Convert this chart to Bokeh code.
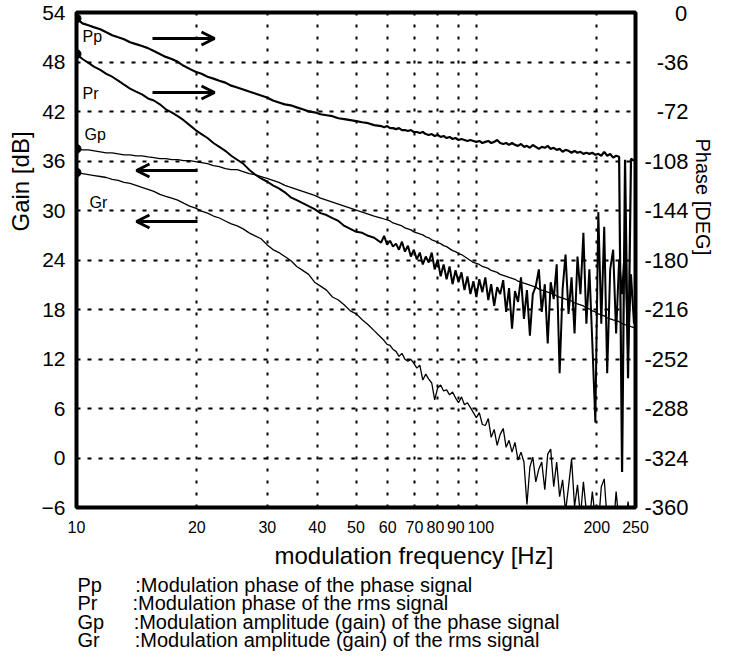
import math
from bokeh.plotting import figure
from bokeh.models import Range1d, FixedTicker, Label, Arrow, OpenHead, LinearAxis, Title
from bokeh.embed import file_html
from bokeh.resources import INLINE

# ---------------- data ----------------
x_ticks = [10, 20, 30, 40, 50, 60, 70, 80, 90, 100, 200, 250]
x_tick_labels = ["10", "20", "30", "40", "50", "60", "70", "80\u00a0", "90\u00a0", "\u00a0\u00a0100", "200", "250"]
x_grid = [20, 30, 40, 50, 60, 70, 80, 90, 100, 200]
gain_ticks = [54, 48, 42, 36, 30, 24, 18, 12, 6, 0, -6]
phase_ticks = [0, -36, -72, -108, -144, -180, -216, -252, -288, -324, -360]
phase_tick_labels = ["\u00a0" * 5 + "0", "\u00a0\u00a0-36", "\u00a0\u00a0-72", "-108", "-144", "-180",
                     "-216", "-252", "-288", "-324", "-360"]

freq = [10.00, 10.35, 10.71, 11.08, 11.47, 11.87, 12.28, 12.71, 13.15, 13.61,
        14.09, 14.58, 15.09, 15.61, 16.16, 16.72, 17.30, 17.91, 18.53, 19.18,
        19.85, 20.54, 21.26, 22.00, 22.76, 23.56, 24.38, 25.23, 26.11, 27.02,
        27.96, 28.94, 29.94, 30.99, 32.07, 33.19, 34.34, 35.54, 36.78, 38.06,
        39.39, 40.76, 42.19, 43.66, 45.18, 46.76, 48.39, 50.07, 51.82, 53.63,
        55.50,
        57.78, 58.78, 59.80, 60.83, 61.88, 62.95, 64.04, 65.15, 66.27, 67.42,
        68.58, 69.77, 70.98, 72.20, 73.45, 74.72, 76.01, 77.33, 78.66, 80.02,
        81.41, 82.81, 84.25, 85.70, 87.18, 88.69, 90.22, 91.78, 93.37, 94.98,
        96.63, 98.30, 100.0, 101.7, 103.5, 105.3, 107.1, 108.9, 110.8, 112.7,
        114.7, 116.7, 118.7, 120.7, 122.8, 124.9, 127.1, 129.3, 131.5, 133.8,
        136.1, 138.4, 140.8, 143.3, 145.7, 148.3, 150.8, 153.4, 156.1, 158.8,
        161.5, 164.3, 167.1, 170.0, 173.0, 176.0, 179.0, 182.1, 185.2, 188.4,
        191.7, 195.0, 198.4, 201.8, 205.3, 208.8, 212.4, 216.1, 219.8, 223.6,
        227.5, 231.4, 235.4, 239.5, 243.6, 247.8]

# Pp: modulation phase of the phase signal [deg]
pp_phase = [-4.3, -7.9, -9.3, -10.8, -12.2, -14.4, -16.5, -18.0, -19.4, -21.6,
            -23.0, -24.4, -25.9, -28.0, -30.2, -32.3, -33.8, -35.9, -38.8, -41.0,
            -43.1, -44.6, -46.7, -48.1, -49.6, -51.0, -53.2, -54.6, -56.0, -57.5,
            -58.9, -60.4, -61.8, -64.0, -65.4, -66.8, -67.5, -69.0, -70.4, -71.9,
            -72.6, -74.0, -74.7, -75.4, -76.9, -77.6, -78.3, -79.0, -79.8, -80.5,
            -81.9,
            -82.6, -83.4, -82.6, -84.1, -84.1, -84.8, -84.1, -85.5, -85.5, -86.2,
            -85.5, -86.9, -86.9, -87.7, -86.9, -88.4, -89.1, -88.4, -89.8, -89.1,
            -90.5, -89.8, -91.3, -90.5, -92.0, -91.3, -92.7, -92.0, -92.7, -93.4,
            -92.7, -93.4, -94.1, -93.4, -94.9, -94.1, -93.4, -94.9, -94.1, -92.7,
            -94.9, -95.6, -94.9, -96.3, -94.9, -96.3, -97.0, -95.6, -97.7, -97.0,
            -98.4, -96.3, -97.7, -99.2, -97.7, -98.4, -97.0, -99.2, -98.4, -99.9,
            -99.2, -101.3, -99.9, -100.6, -102.0, -100.6, -102.0, -101.3, -102.8, -102.0,
            -102.8, -102.0, -103.5, -102.8, -104.2, -101.3, -104.2, -102.8, -105.6, -104.2,
            -104.9, -334.1, -107.1, -265.9, -106.3, -107.8]

# Pr: modulation phase of the rms signal [deg]
pr_phase = [-30.2, -33.8, -36.6, -39.5, -41.7, -44.6, -46.7, -49.6, -52.5, -55.3,
            -57.5, -59.6, -62.5, -64.0, -66.8, -70.4, -72.6, -75.4, -78.3, -81.9,
            -85.5, -88.4, -91.3, -94.9, -97.7, -100.6, -104.2, -107.1, -109.9, -114.3,
            -117.8, -120.7, -122.9, -125.7, -127.9, -130.8, -134.4, -136.5, -138.7, -140.8,
            -143.0, -145.9, -147.3, -149.5, -151.6, -155.2, -157.4, -159.5, -160.2, -162.4,
            -163.8,
            -167.4, -162.4, -168.9, -166.0, -170.3, -168.1, -172.5, -166.7, -173.9, -169.6,
            -177.5, -172.5, -179.6, -174.6, -183.2, -177.5, -181.8, -174.6, -186.8, -179.6,
            -191.9, -183.2, -194.0, -184.7, -197.6, -187.5, -196.2, -189.0, -201.9, -191.9,
            -204.8, -195.4, -206.9, -194.0, -203.4, -192.6, -209.1, -197.6, -213.4, -199.8,
            -204.8, -194.7, -217.7, -200.5, -229.9, -202.6, -210.5, -192.6, -222.8, -201.9,
            -235.0, -204.8, -199.0, -186.8, -217.7, -197.6, -240.7, -196.2, -208.4, -183.2,
            -262.3, -201.2, -176.0, -219.2, -192.6, -233.5, -177.5, -204.8, -160.2, -226.3,
            -186.8, -240.7, -298.2, -145.2, -226.3, -155.9, -262.3, -186.8, -172.5, -233.5,
            -179.6, -204.8, -168.9, -247.9, -190.4, -226.3]

# Gp: modulation amplitude (gain) of the phase signal [dB]
gp_gain = [37.47, 37.35, 37.35, 37.23, 37.11, 36.99, 36.99, 36.87, 36.75, 36.75,
           36.63, 36.63, 36.51, 36.40, 36.28, 36.28, 36.16, 36.16, 36.04, 36.04,
           35.92, 35.80, 35.68, 35.44, 35.32, 35.08, 34.96, 34.96, 34.72, 34.48,
           34.36, 34.12, 33.88, 33.64, 33.40, 33.04, 32.80, 32.56, 32.32, 32.08,
           31.84, 31.49, 31.25, 31.01, 30.77, 30.53, 30.29, 30.05, 29.81, 29.57,
           29.33,
           29.09, 28.97, 28.85, 28.73, 28.49, 28.37, 28.25, 28.13, 27.89, 27.77,
           27.65, 27.41, 27.29, 27.17, 27.05, 26.81, 26.69, 26.45, 26.33, 26.10,
           25.98, 25.74, 25.62, 25.38, 25.14, 25.02, 24.78, 24.66, 24.42, 24.18,
           23.94, 23.70, 23.58, 23.46, 23.22, 23.10, 22.98, 22.74, 22.62, 22.50,
           22.26, 22.14, 22.02, 21.90, 21.78, 21.66, 21.43, 21.31, 21.19, 21.07,
           20.95, 20.83, 20.71, 20.47, 20.35, 20.23, 20.11, 19.99, 19.87, 19.63,
           19.51, 19.39, 19.27, 19.15, 19.03, 18.79, 18.67, 18.55, 18.43, 18.19,
           18.07, 17.83, 17.71, 17.47, 17.35, 17.23, 16.99, 16.87, 16.75, 16.64,
           16.52, 16.28, 16.16, 16.04, 15.92, 15.80]

# Gr: modulation amplitude (gain) of the rms signal [dB]
gr_gain = [34.60, 34.48, 34.36, 34.24, 34.12, 34.00, 33.76, 33.64, 33.40, 33.28,
           33.04, 32.80, 32.56, 32.32, 31.96, 31.72, 31.49, 31.25, 30.89, 30.53,
           30.29, 29.93, 29.69, 29.33, 29.09, 28.73, 28.37, 28.13, 27.77, 27.29,
           26.93, 26.58, 25.86, 25.26, 24.90, 24.42, 23.94, 23.22, 22.74, 22.26,
           21.31, 20.83, 20.35, 19.51, 19.15, 18.55, 17.83, 17.47, 16.75, 16.16,
           15.44,
           14.60, 14.24, 13.76, 13.64, 13.16, 12.92, 12.32, 12.68, 11.96, 11.72,
           11.96, 11.48, 10.89, 11.25, 9.45, 10.17, 9.57, 9.09, 7.05, 8.49,
           8.85, 8.13, 8.25, 7.65, 8.01, 7.29, 6.70, 7.41, 6.46, 6.70,
           6.10, 5.50, 4.90, 5.50, 4.06, 3.94, 4.78, 2.50, 3.46, 1.54,
           2.86, 3.58, 1.30, 2.14, 0.71, 1.90, -0.25, 0.71, -0.49, -5.64,
           -1.09, 0.11, -2.89, -1.33, -0.49, -3.84, 0.47, 1.07, -3.48, -0.49,
           -4.68, -2.65, -6.48, -3.48, -0.13, -5.88, -3.25, -7.08, -2.89, -6.48,
           -7.68, -4.08, -7.44, -8.28, -3.48, -2.53, -7.68, -6.48, -8.87, -4.08,
           -7.92, -7.08, -9.47, -5.28, -8.28, -7.68]

for name, arr in [("pp", pp_phase), ("pr", pr_phase), ("gp", gp_gain), ("gr", gr_gain)]:
    if len(arr) != len(freq):
        raise SystemExit(f"{name}: {len(arr)} vs {len(freq)}")

NB = "\u00a0"
HAIR = "\u200a"
legend_keys = ["Pp", "Pr", "Gp", "Gr"]
legend_gaps = [NB * 6, NB * 6 + HAIR, NB * 5 + HAIR, NB * 6 + HAIR]
legend_desc = [":Modulation phase of the phase signal",
               ":Modulation phase of the rms signal",
               ":Modulation amplitude (gain) of the phase signal",
               ":Modulation amplitude (gain) of the rms signal"]
legend_text = "\n".join(k + g + d for k, g, d in zip(legend_keys, legend_gaps, legend_desc))

FONT = "Liberation Sans"

# ---------------- figure ----------------
p = figure(width=715, height=653, x_axis_type="log",
           x_range=Range1d(10, 250), y_range=Range1d(-6, 54),
           output_backend="svg", toolbar_location=None,
           min_border_left=74, min_border_right=78, min_border_top=12, min_border_bottom=145)
p.extra_y_ranges = {"phase": Range1d(-360, 0)}
p.background_fill_color = "white"
p.border_fill_color = "white"
p.outline_line_color = "black"
p.outline_line_width = 4

# grids
p.xgrid.ticker = FixedTicker(ticks=x_grid)
p.xgrid.grid_line_color = "black"
p.xgrid.grid_line_width = 2
p.xgrid.grid_line_dash = "3 9"
p.ygrid.ticker = FixedTicker(ticks=gain_ticks[1:-1])
p.ygrid.grid_line_color = "black"
p.ygrid.grid_line_width = 2
p.ygrid.grid_line_dash = "4 7"

# axes
xa = p.xaxis[0]
xa.ticker = FixedTicker(ticks=x_ticks)
xa.major_label_overrides = {t: s for t, s in zip(x_ticks, x_tick_labels)}
xa.major_label_text_font_size = "16px"
xa.major_label_standoff = 11
ya = p.yaxis[0]
ya.ticker = FixedTicker(ticks=gain_ticks)
ya.major_label_text_font_size = "21px"
ya.major_label_standoff = 11
ra = LinearAxis(y_range_name="phase", ticker=FixedTicker(ticks=phase_ticks))
ra.major_label_overrides = {t: s for t, s in zip(phase_ticks, phase_tick_labels)}
ra.major_label_text_font_size = "22px"
ra.major_label_standoff = 9
p.add_layout(ra, "right")
for ax in (xa, ya, ra):
    ax.major_label_text_font = FONT
    ax.major_label_text_color = "black"
    ax.axis_line_color = None
    ax.major_tick_line_color = None
    ax.minor_tick_line_color = None
    ax.major_tick_out = 0
    ax.major_tick_in = 0
    ax.minor_tick_out = 0
    ax.minor_tick_in = 0


def title(text, place, size, align="left", offset=0, standoff=0, line_height=1.2):
    p.add_layout(Title(text=text, align=align, offset=offset, standoff=standoff,
                       text_font=FONT, text_font_size=f"{size}px",
                       text_line_height=line_height,
                       text_font_style="normal", text_color="black"), place)


# axis titles (placed off-centre, as in the original)
title("Gain [dB]", "left", 24, align="left", offset=276, standoff=9)
title("Phase [DEG]", "right", 20, align="left", offset=126, standoff=0)
title("modulation frequency [Hz]", "below", 24, align="left", offset=198, standoff=2)
# legend text under the chart
title(legend_text, "below", 20, align="left", offset=1, standoff=5, line_height=0.83)

# curves
p.line(freq, pp_phase, y_range_name="phase", line_color="black", line_width=2.2)
p.line(freq, pr_phase, y_range_name="phase", line_color="black", line_width=2.0)
p.line(freq, gp_gain, line_color="black", line_width=1.3)
p.line(freq, gr_gain, line_color="black", line_width=1.3)
p.scatter([freq[0], freq[0]], [pp_phase[0], pr_phase[0]], y_range_name="phase",
          size=9, color="black")
p.scatter([freq[0], freq[0]], [gp_gain[0], gr_gain[0]], size=9, color="black")


def lab(text, x, y, size):
    p.add_layout(Label(x=x, y=y, x_units="screen", y_units="screen",
                       text=text, text_font=FONT, text_font_size=f"{size}px",
                       text_align="left", text_baseline="middle", text_color="black"))


# curve tags
lab("Pp", 6, 471, 16)
lab("Pr", 6, 414, 16)
lab("Gp", 8, 373, 16)
lab("Gr", 13, 305, 16)

# arrows
for (xs, ys, xe, ye) in [(76, 469, 138, 469), (76, 415, 138, 415),
                         (121, 337, 60, 337), (121, 286, 60, 286)]:
    p.add_layout(Arrow(x_start=xs, y_start=ys, x_end=xe, y_end=ye,
                       start_units="screen", end_units="screen",
                       line_width=3, line_color="black",
                       end=OpenHead(size=13, line_width=3, line_color="black")))

open("out.html", "w").write(file_html(p, INLINE))
